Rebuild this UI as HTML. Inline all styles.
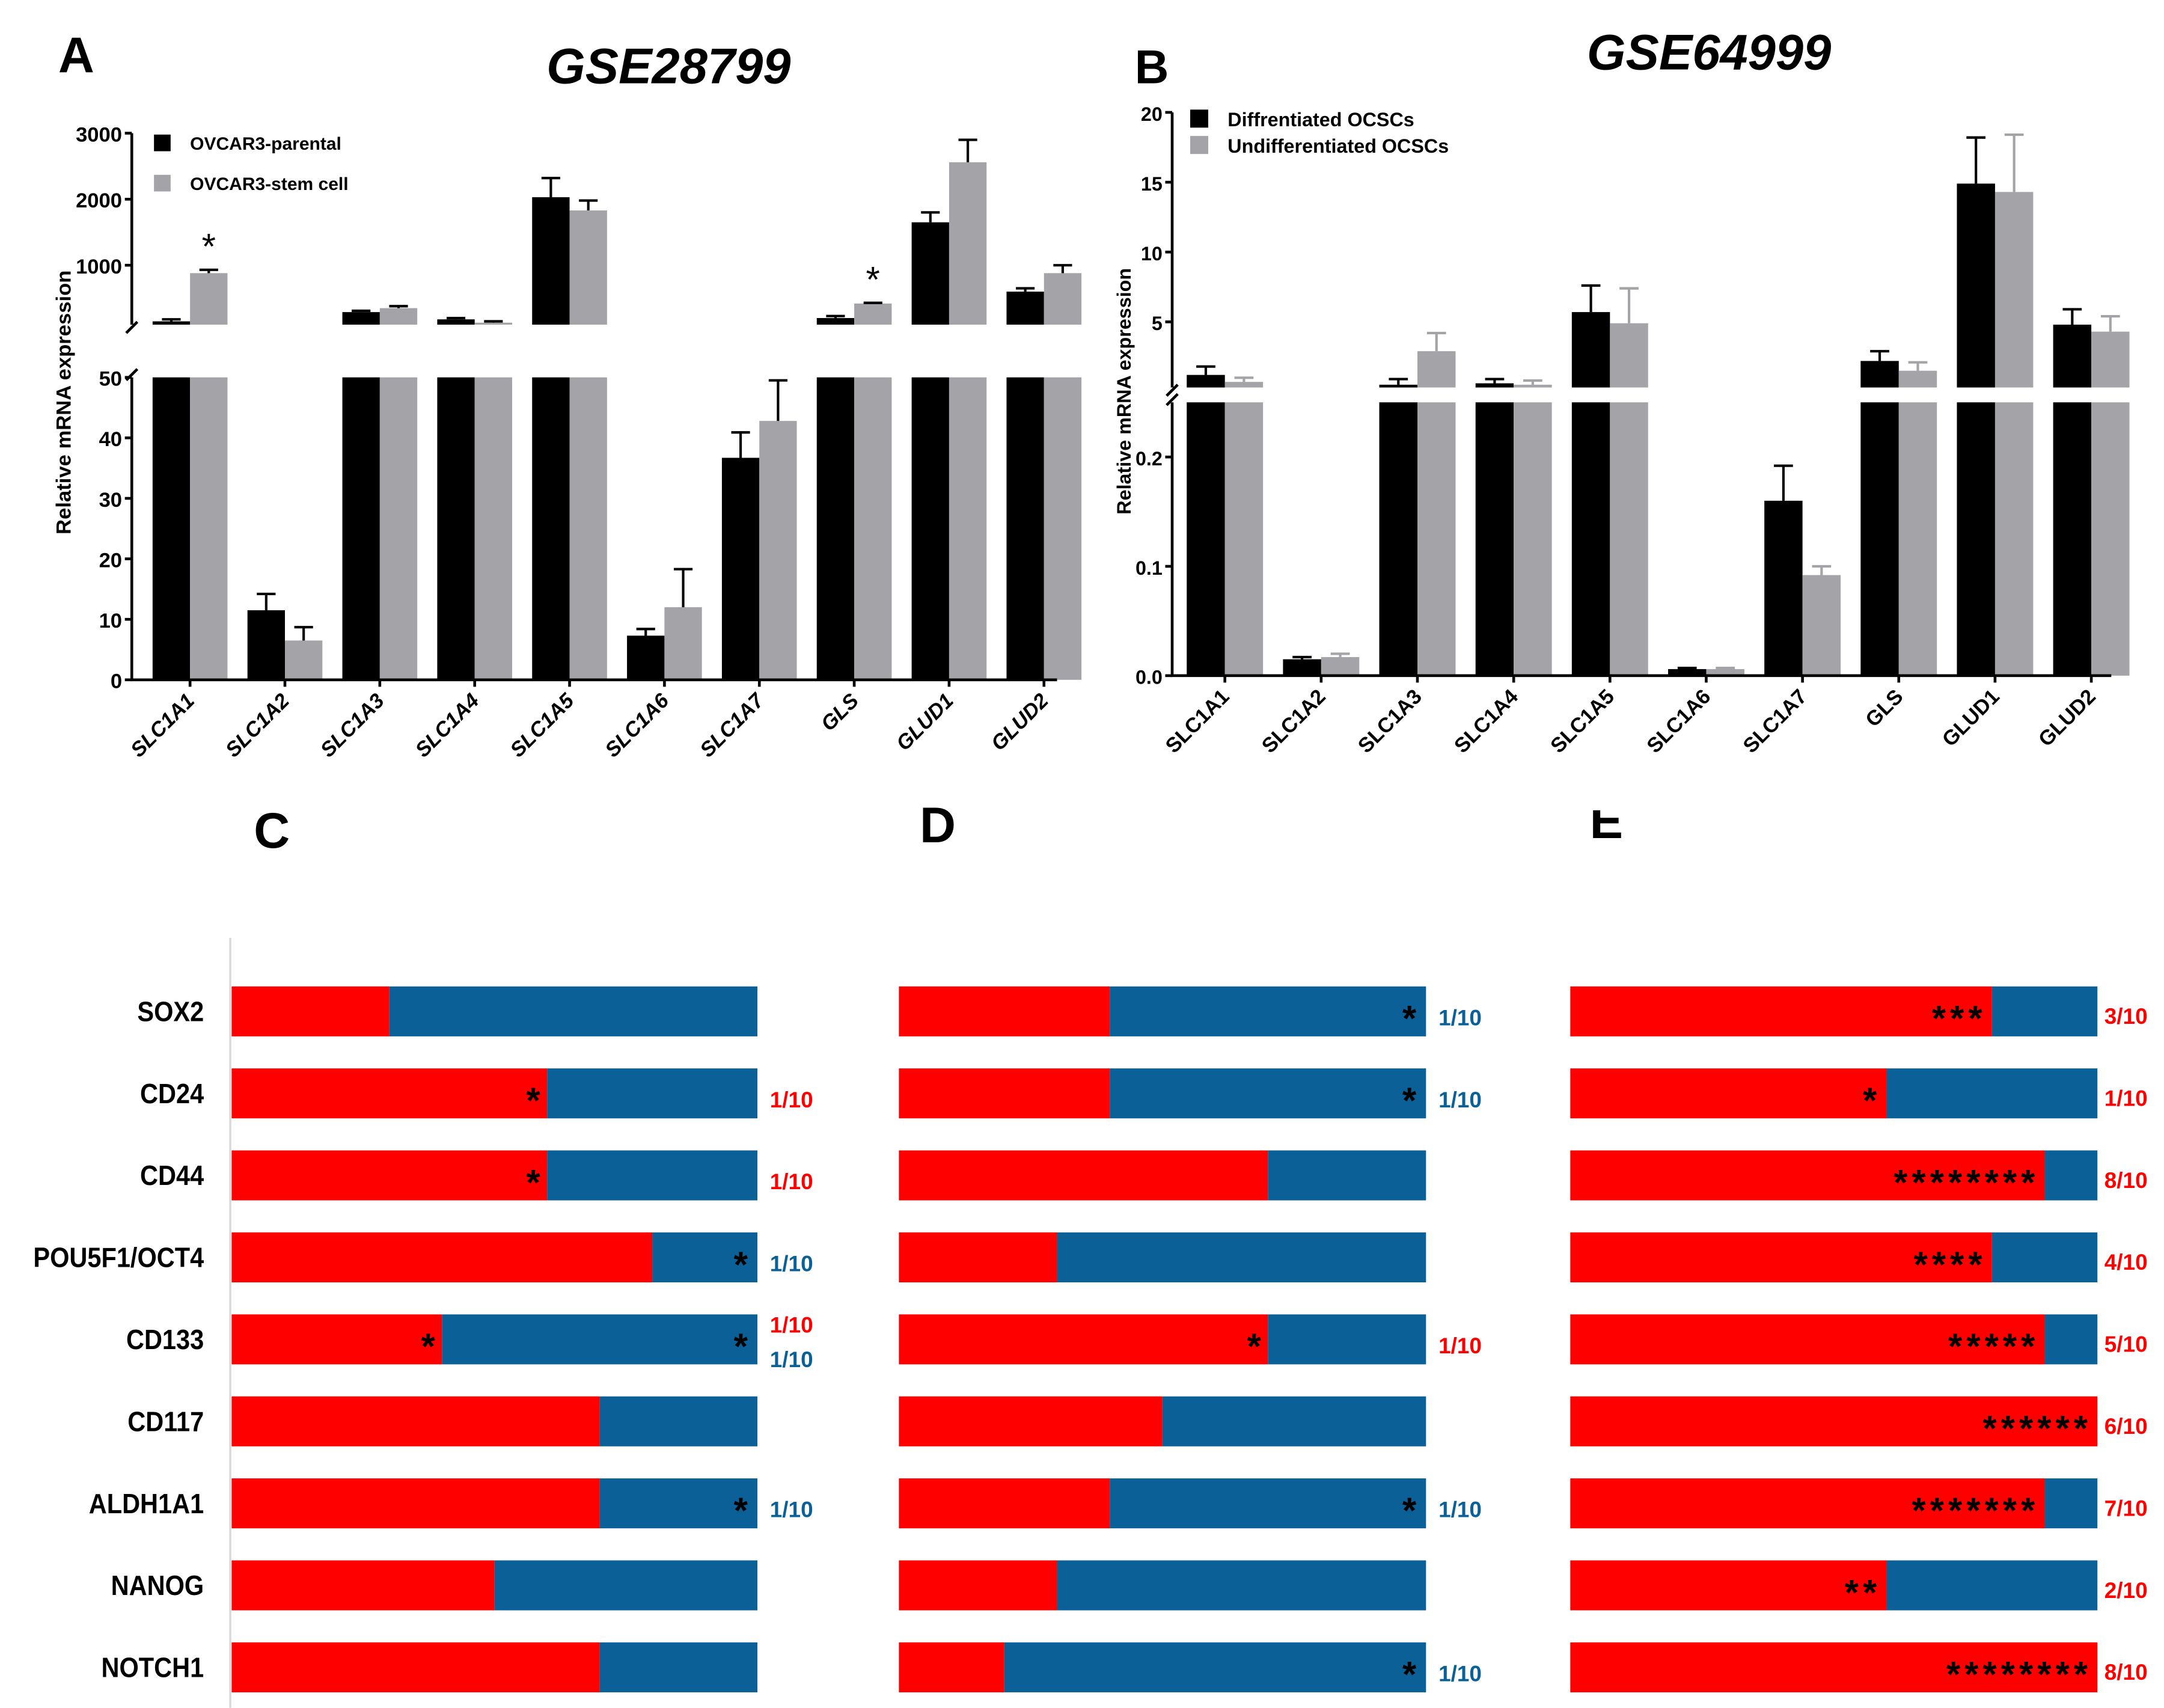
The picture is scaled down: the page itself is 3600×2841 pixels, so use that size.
<!DOCTYPE html>
<html><head><meta charset="utf-8"><style>
html,body{margin:0;padding:0;background:#fff}
svg{display:block}
text{font-family:"Liberation Sans",sans-serif}
</style></head><body>
<svg id="fig" xmlns="http://www.w3.org/2000/svg" width="3600" height="2841" viewBox="0 0 1560 1231.1" preserveAspectRatio="none">
<rect x="0" y="0" width="1560" height="1231.1" fill="#fff"/>
<defs><clipPath id="eclip"><rect x="1100" y="584" width="100" height="40"/></clipPath></defs>
<text x="42" y="52" font-size="36" font-weight="bold">A</text>
<text x="482" y="60" font-size="36" font-weight="bold" font-style="italic" text-anchor="middle">GSE28799</text>
<text x="818" y="60" font-size="34" font-weight="bold">B</text>
<text x="1232" y="50" font-size="36" font-weight="bold" font-style="italic" text-anchor="middle">GSE64999</text>
<text x="183" y="611" font-size="36" font-weight="bold">C</text>
<text x="663" y="607" font-size="36" font-weight="bold">D</text>
<text x="1146" y="604" font-size="36" font-weight="bold" clip-path="url(#eclip)">E</text>
<g id="gA"></g>
<g id="gB"></g>
<g id="gC"></g>
<g id="gD"></g>
<g id="gE"></g>
</svg>
<script>
const geneCats=["SLC1A1","SLC1A2","SLC1A3","SLC1A4","SLC1A5","SLC1A6","SLC1A7","GLS","GLUD1","GLUD2"];
const A_black=[150,11.5,290,180,2030,7.3,36.7,200,1650,600];
const A_blackErr=[180,14.2,310,200,2320,8.4,40.9,230,1800,650];
const A_gray=[880,6.5,350,130,1830,12,42.8,420,2560,880];
const A_grayErr=[930,8.7,380,150,1980,18.3,49.5,430,2900,1000];
const A_upperTicks=[1000,2000,3000];
const A_lowerTicks=[0,10,20,30,40,50];
const A_sig=[1,0,0,0,0,0,0,1,0,0];
const B_black=[1.2,0.015,0.5,0.6,5.7,0.006,0.16,2.2,14.9,4.8];
const B_blackErr=[1.8,0.017,0.9,0.9,7.6,0.007,0.192,2.9,18.2,5.9];
const B_gray=[0.7,0.017,2.9,0.5,4.9,0.006,0.092,1.5,14.3,4.3];
const B_grayErr=[1.0,0.02,4.2,0.8,7.4,0.007,0.1,2.1,18.4,5.4];
const B_upperTicks=[5,10,15,20];
const B_lowerTicks=[0,0.1,0.2];
const B_lowerLabels=["0.0","0.1","0.2"];
const markers=["SOX2","CD24","CD44","POU5F1/OCT4","CD133","CD117","ALDH1A1","NANOG","NOTCH1"];
const C_red=[0.3,0.6,0.6,0.8,0.4,0.7,0.7,0.5,0.7];
const C_starRed=[0,1,1,0,1,0,0,0,0];
const C_starBlue=[0,0,0,1,1,0,1,0,0];
const D_red=[0.4,0.4,0.7,0.3,0.7,0.5,0.4,0.3,0.2];
const D_starRed=[0,0,0,0,1,0,0,0,0];
const D_starBlue=[1,1,0,0,0,0,1,0,1];
const E_red=[0.8,0.6,0.9,0.8,0.9,1.0,0.9,0.6,1.0];
const E_count=[3,1,8,4,5,6,7,2,8];

const NS="http://www.w3.org/2000/svg";
function mk(parent,tag,attrs,txt){const e=document.createElementNS(NS,tag);for(const k in attrs)e.setAttribute(k,attrs[k]);if(txt!==undefined)e.textContent=txt;parent.appendChild(e);return e;}

function brokenChart(g,cfg){
  const yL=v=>cfg.L0+(Math.min(v,cfg.Lmax)/cfg.Lmax)*(cfg.Ltop-cfg.L0);
  const yU=v=>cfg.U0y-(v-cfg.Umin)/(cfg.Umax-cfg.Umin)*(cfg.U0y-cfg.Utop);
  const cx=i=>cfg.c0+cfg.step*i;
  [[cfg.black,cfg.blackErr,"#000",cfg.errBlack,-1],[cfg.gray,cfg.grayErr,"#a3a3a8",cfg.errGray,0]].forEach(([vals,errs,col,ecol,off],s)=>{
    vals.forEach((v,i)=>{
      const x=cx(i)+off*cfg.bw;
      const b=mk(g,"rect",{x:x,y:yL(v),width:cfg.bw,height:cfg.L0-yL(v),fill:col});
      
      
      let topY;
      if(v>cfg.Umin){
        const u=mk(g,"rect",{x:x,y:yU(v),width:cfg.bw,height:cfg.U0y-yU(v),fill:col});
        
        
        topY=yU(v);
      } else topY=yL(v);
      const e=errs[i];
      let eY;
      if(e>cfg.Umin) eY=yU(e); else if(e<=cfg.Lmax) eY=yL(e); else eY=null;
      if(eY!==null){
        const mx=x+cfg.bw/2;
        const eb=mk(g,"path",{d:`M${mx},${topY}V${eY}M${mx-cfg.bw/4},${eY}H${mx+cfg.bw/4}`,stroke:ecol,"stroke-width":1.8,fill:"none"});
        
        
      }
    });
  });
  const ax=cfg.ax;
  const axis=mk(g,"path",{d:`M${ax},${cfg.Utop}V${cfg.U0y}M${ax},${cfg.Ltop}V${cfg.L0}H${cfg.xEnd}M${ax-4},${cfg.U0y+6}l8,-8M${ax-4},${cfg.Ltop+2}l8,-8`,stroke:"#000","stroke-width":2,fill:"none"});
  
  
  cfg.upperTicks.forEach((t,k)=>{
    const y=yU(t);
    mk(g,"line",{x1:ax-5,x2:ax,y1:y,y2:y,stroke:"#000","stroke-width":2});
    const tl=mk(g,"text",{x:ax-7,y:y+6,"font-size":cfg.tfs,"font-weight":"bold","text-anchor":"end"},String(t));
    
    
  });
  cfg.lowerTicks.forEach((t,k)=>{
    const y=yL(t);
    mk(g,"line",{x1:ax-5,x2:ax,y1:y,y2:y,stroke:"#000","stroke-width":2});
    const tl=mk(g,"text",{x:ax-7,y:y+6,"font-size":cfg.tfs,"font-weight":"bold","text-anchor":"end"},cfg.lowerLabels?cfg.lowerLabels[k]:String(t));
    
    
  });
  cfg.cats.forEach((c,i)=>{
    const x=cx(i);
    mk(g,"line",{x1:x,x2:x,y1:cfg.L0,y2:cfg.L0+5,stroke:"#000","stroke-width":2});
    const tl=mk(g,"text",{x:x+4,y:cfg.L0+16,"font-size":15,"font-weight":"bold","font-style":cfg.italic?"italic":"normal","text-anchor":"end",transform:`rotate(-45 ${x+4} ${cfg.L0+16})`},c);
    
    
  });
  const yl=mk(g,"text",{x:cfg.ylx,y:cfg.yly,"font-size":cfg.ylfs,"font-weight":"bold","text-anchor":"middle",transform:`rotate(-90 ${cfg.ylx} ${cfg.yly})`},"Relative mRNA expression");
  
  
  if(cfg.sig){cfg.sig.forEach((s,i)=>{if(s){
    const st=mk(g,"text",{x:cx(i)+cfg.bw/2,y:yU(cfg.grayErr[i])-8,"font-size":26,"text-anchor":"middle"},"*");
    
    
  }});}
  cfg.legend.forEach((l,k)=>{
    mk(g,"rect",{x:l.x,y:l.y,width:l.s,height:l.s,fill:l.c});
    const lt=mk(g,"text",{x:l.x+l.s+14,y:l.y+l.s-1,"font-size":l.fs,"font-weight":"bold"},l.t);
    
    
  });
}

brokenChart(document.getElementById("gA"),{cats:geneCats,black:A_black,blackErr:A_blackErr,gray:A_gray,grayErr:A_grayErr,
  L0:490,Ltop:272,Lmax:50,U0y:234,Utop:96,Umin:100,Umax:3000,c0:137,step:68.4,bw:27,ax:95,xEnd:762,
  upperTicks:A_upperTicks,lowerTicks:A_lowerTicks,tfs:15,errBlack:"#000",errGray:"#000",italic:true,
  ylx:51,yly:290,ylfs:15,sig:A_sig,
  legend:[{x:111,y:97,s:12,c:"#000",t:"OVCAR3-parental",fs:13},{x:111,y:126,s:12,c:"#a3a3a8",t:"OVCAR3-stem cell",fs:13}]});
brokenChart(document.getElementById("gB"),{cats:geneCats,black:B_black,blackErr:B_blackErr,gray:B_gray,grayErr:B_grayErr,
  L0:487,Ltop:290,Lmax:0.25,U0y:279.3,Utop:81,Umin:0.3,Umax:20,c0:883,step:69.4,bw:27.5,ax:845,xEnd:1522,
  upperTicks:B_upperTicks,lowerTicks:B_lowerTicks,lowerLabels:B_lowerLabels,tfs:14,errBlack:"#000",errGray:"#a3a3a8",italic:false,
  ylx:815,yly:282,ylfs:14,
  legend:[{x:858,y:79,s:13,c:"#000",t:"Diffrentiated OCSCs",fs:14},{x:858,y:98,s:13,c:"#a3a3a8",t:"Undifferentiated OCSCs",fs:14}]});

const RED="#ff0000",BLUE="#0a6097";
function stacked(g,cfg){
  const xs=f=>cfg.x0+f*cfg.w;
  cfg.red.forEach((f,i)=>{
    const y=711+59.1*i,h=36,cy=y+h/2;
    const r=mk(g,"rect",{x:cfg.x0,y:y,width:xs(f)-cfg.x0,height:h,fill:RED});
    
    
    const b=mk(g,"rect",{x:xs(f),y:y,width:cfg.x0+cfg.w-xs(f),height:h,fill:BLUE});
    
    
    if(cfg.labels){
      const t=mk(g,"text",{x:147,y:cy+7,"font-size":20,"font-weight":"bold","text-anchor":"end",transform:`translate(147 0) scale(0.9 1) translate(-147 0)`},markers[i]);
      
      
    }
    const lx=cfg.x0+cfg.w+9;
    if(cfg.count){
      const n=cfg.count[i];
      const st=mk(g,"text",{x:xs(f)-4,y:cy+14,"font-size":26,"font-weight":"bold","text-anchor":"end","letter-spacing":"3"},"*".repeat(n));
      
      
      const l=mk(g,"text",{x:lx-4,y:cy+9,"font-size":16,"font-weight":"bold",fill:RED},n+"/10");
      
      
    } else {
      const sr=cfg.starRed[i],sb=cfg.starBlue[i];
      if(sr){const s=mk(g,"text",{x:xs(f)-10,y:cy+14,"font-size":26,"font-weight":"bold","text-anchor":"middle"},"*");
        
        }
      if(sb){const s=mk(g,"text",{x:cfg.x0+cfg.w-12,y:cy+14,"font-size":26,"font-weight":"bold","text-anchor":"middle"},"*");
        
        }
      if(sr&&sb){
        const a=mk(g,"text",{x:lx,y:cy-5,"font-size":16,"font-weight":"bold",fill:RED},"1/10");
        
        
        const c=mk(g,"text",{x:lx,y:cy+20,"font-size":16,"font-weight":"bold",fill:BLUE},"1/10");
        
        
      } else if(sr||sb){
        const a=mk(g,"text",{x:lx,y:cy+10,"font-size":16,"font-weight":"bold",fill:sr?RED:BLUE},"1/10");
        
        
      }
    }
  });
  if(cfg.labels){
    const ax=mk(g,"line",{x1:166,x2:166,y1:676,y2:1231,stroke:"#d9d9d9","stroke-width":1.5});
    
    
  }
}
stacked(document.getElementById("gC"),{x0:167,w:379,red:C_red,starRed:C_starRed,starBlue:C_starBlue,labels:true});
stacked(document.getElementById("gD"),{x0:648,w:380,red:D_red,starRed:D_starRed,starBlue:D_starBlue});
stacked(document.getElementById("gE"),{x0:1132,w:380,red:E_red,count:E_count});
</script>
</body></html>
